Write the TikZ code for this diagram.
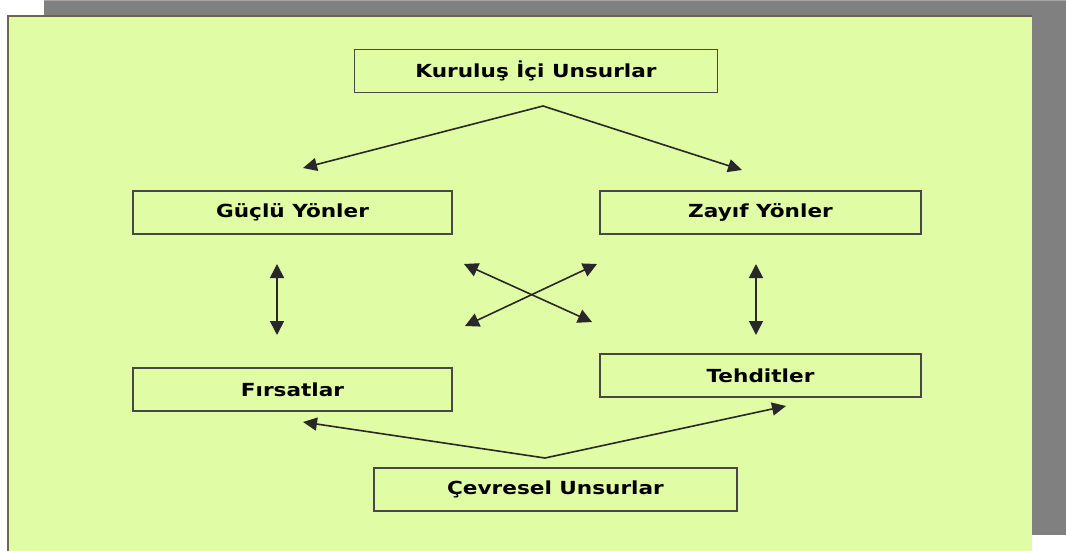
\documentclass[tikz,border=0pt]{standalone}
\usepackage{fontspec}
\setmainfont{DejaVu Sans}
\newfontfamily\boxfont[FakeStretch=1.2]{DejaVu Sans Bold}
\usetikzlibrary{arrows.meta}
\definecolor{panel}{RGB}{224,252,164}
\definecolor{shadow}{RGB}{128,128,128}
\definecolor{edge}{RGB}{115,98,82}
\definecolor{ink}{RGB}{40,40,40}
\tikzset{
  box/.style={draw=ink!85, line width=1.8pt, minimum height=43pt, inner sep=0pt, font=\boxfont\fontsize{18}{20}\selectfont, text=black},
  arr/.style={draw=ink, line width=1.6pt, -{Triangle[length=14pt,width=13pt]}},
  darr/.style={draw=ink, line width=1.6pt, {Triangle[length=14pt,width=14pt]}-{Triangle[length=14pt,width=14pt]}}
}
\begin{document}
\begin{tikzpicture}[x=1pt,y=-1pt]
\useasboundingbox (0,0) rectangle (1066,551);
\fill[white] (0,0) rectangle (1066,551);
\fill[shadow] (44,1) rectangle (1066,535);
\fill[shadow!70] (44,0) rectangle (1066,1.5);
\fill[panel] (8,16) rectangle (1032,551);
\draw[edge, line width=2pt] (8,551) -- (8,16.5) -- (1032,16.5);

\node[box, minimum width=363pt] (kiu) at (536,71) {Kuruluş İçi Unsurlar};
\node[box, minimum width=319pt] (gy) at (292.5,212.5) {Güçlü Yönler};
\node[box, minimum width=321pt] (zy) at (760.5,212.5) {Zayıf Yönler};
\node[box, minimum width=319pt] (fr) at (292.5,389.5) {Fırsatlar};
\node[box, minimum width=321pt] (th) at (760.5,375.5) {Tehditler};
\node[box, minimum width=363pt] (cu) at (555.5,489.5) {Çevresel Unsurlar};

\coordinate (topapex) at (543,106);
\coordinate (toL) at (303,168);
\coordinate (toR) at (742,170);
\coordinate (botapex) at (545,458);
\coordinate (boL) at (303,422);
\coordinate (boR) at (786,406);

\draw[arr] (topapex) -- (toL);
\draw[arr] (topapex) -- (toR);
\draw[arr] (botapex) -- (boL);
\draw[arr] (botapex) -- (boR);

\coordinate (v1a) at (277,264);
\coordinate (v1b) at (277,335);
\coordinate (v2a) at (756,264);
\coordinate (v2b) at (756,335);
\draw[darr] (v1a) -- (v1b);
\draw[darr] (v2a) -- (v2b);

\coordinate (x1a) at (464,264);
\coordinate (x1b) at (592,322);
\coordinate (x2a) at (465,326);
\coordinate (x2b) at (597,264);
\draw[darr] (x1a) -- (x1b);
\draw[darr] (x2a) -- (x2b);
\end{tikzpicture}
\end{document}
